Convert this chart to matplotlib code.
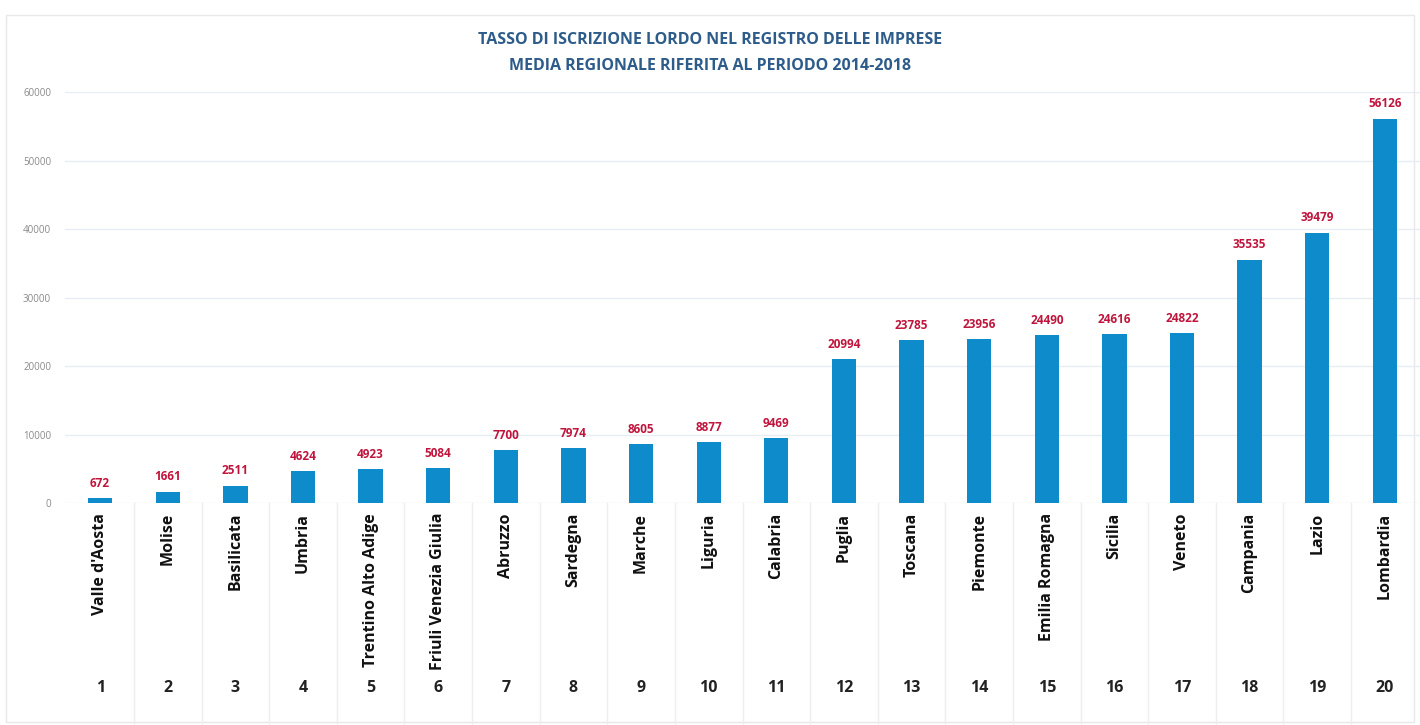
import matplotlib
matplotlib.use("Agg")
import matplotlib.pyplot as plt
from matplotlib.transforms import blended_transform_factory

regions = ["Valle d'Aosta", "Molise", "Basilicata", "Umbria", "Trentino Alto Adige",
           "Friuli Venezia Giulia", "Abruzzo", "Sardegna", "Marche", "Liguria",
           "Calabria", "Puglia", "Toscana", "Piemonte", "Emilia Romagna",
           "Sicilia", "Veneto", "Campania", "Lazio", "Lombardia"]
values = [672, 1661, 2511, 4624, 4923, 5084, 7700, 7974, 8605, 8877,
          9469, 20994, 23785, 23956, 24490, 24616, 24822, 35535, 39479, 56126]
ranks = list(range(1, 21))
yticks = [0, 10000, 20000, 30000, 40000, 50000, 60000]
title_lines = ["TASSO DI ISCRIZIONE LORDO NEL REGISTRO DELLE IMPRESE",
               "MEDIA REGIONALE RIFERITA AL PERIODO 2014-2018"]

plt.rcParams['font.family'] = ['Open Sans', 'DejaVu Sans']

fig = plt.figure(figsize=(14.2, 7.25), dpi=100)
ax = fig.add_axes([65/1420, 222/725, 1355/1420, (503-92)/725])

ax.bar(ranks, values, width=0.36, color="#0E8BCB", zorder=3)
for x, v in zip(ranks, values):
    ax.annotate(str(v), (x, v), xytext=(0, 6), textcoords="offset points",
                ha="center", va="bottom", fontsize=8.5, fontweight="bold",
                color="#C0143C")

ax.set_xlim(0.48, 20.52)
ax.set_ylim(0, 60000)
ax.set_yticks(yticks)
ax.set_yticklabels([str(t) for t in yticks], fontsize=7, color="#8A8A8A")
ax.tick_params(axis="y", length=0, pad=10)
ax.set_xticks([])
ax.grid(axis="y", color="#E6EEF4", linewidth=1, zorder=0)
for s in ax.spines.values():
    s.set_visible(False)

# table-like area below the plot
trans = blended_transform_factory(ax.transData, fig.transFigure)
for i in range(1, 20):
    fig.add_artist(plt.Line2D([i + 0.5, i + 0.5], [0, (725-503)/725],
                              transform=trans, color="#EEEEEE", linewidth=1))
for x, name, r in zip(ranks, regions, ranks):
    fig.text(x, (725-513)/725, name, transform=trans, rotation=90,
             ha="center", va="top", fontsize=11.5, fontweight="bold", color="#111111")
    fig.text(x, (725-688)/725, str(r), transform=trans, ha="center",
             va="center", fontsize=11.5, fontweight="bold", color="#222222")

fig.text(0.5, (725-40)/725, title_lines[0], ha="center", va="center",
         fontsize=11.5, fontweight="bold", color="#2E5C8A")
fig.text(0.5, (725-66)/725, title_lines[1], ha="center", va="center",
         fontsize=11.5, fontweight="bold", color="#2E5C8A")

fig.add_artist(plt.Rectangle((0.004, 0.004), 0.992, 0.975, transform=fig.transFigure,
                             fill=False, edgecolor="#E8E8E8", linewidth=1))

fig.savefig("out.png", dpi=100)
